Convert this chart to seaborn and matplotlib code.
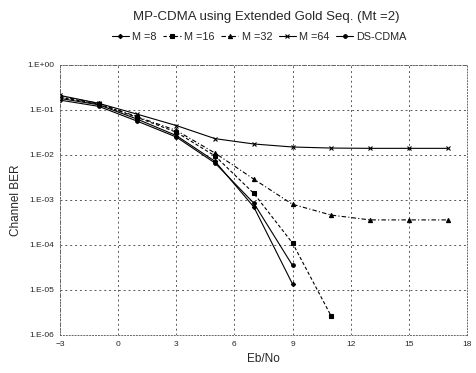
import numpy as np
import pandas as pd
import matplotlib
matplotlib.use('Agg')
import matplotlib.pyplot as plt
import seaborn as sns

# dados
ebno = [-3, -1, 1, 3, 5, 7, 9, 11, 13, 15, 17]
ber_m8 = [0.18, 0.13, 0.062, 0.027, 0.0072, 0.0007, 1.35e-5]
ber_m16 = [0.19, 0.135, 0.068, 0.032, 0.0095, 0.0014, 1.1e-4, 2.6e-6]
ber_m32 = [0.2, 0.14, 0.07, 0.035, 0.011, 0.0029, 8e-4, 4.6e-4, 3.6e-4, 3.6e-4, 3.6e-4]
ber_m64 = [0.21, 0.14, 0.08, 0.045, 0.023, 0.0175, 0.015, 0.0142, 0.014, 0.014, 0.014]
ber_ds = [0.165, 0.12, 0.056, 0.025, 0.0066, 0.00085, 3.5e-5]

labels = ['M =8', 'M =16', 'M =32', 'M =64', 'DS-CDMA']
series = [ber_m8, ber_m16, ber_m32, ber_m64, ber_ds]

sns.set_style('white')
plt.rcParams['font.family'] = ['Liberation Sans', 'DejaVu Sans']

fig = plt.figure(figsize=(4.76, 3.73), dpi=100)
ax = fig.add_axes([0.126, 0.102, 0.855, 0.724])

markers = ['D', 's', '^', 'x', 'o']
lstyles = ['-', (0, (3, 2)), (0, (4, 2, 1, 2)), '-', '-']
msizes = [2.2, 3.2, 3, 3.5, 2.6]

for lab, vals, mk, ls, ms in zip(labels, series, markers, lstyles, msizes):
    d = pd.DataFrame({'Eb/No': ebno[:len(vals)], 'BER': vals})
    sns.lineplot(data=d, x='Eb/No', y='BER', ax=ax, color='black', label=lab,
                 marker=mk, linestyle=ls, linewidth=0.8, markersize=ms,
                 markeredgewidth=0.8, markeredgecolor='black')

ax.set_yscale('log')
ax.set_xlim(-3, 18)
ax.set_ylim(1e-6, 1)
ax.set_xticks(range(-3, 19, 3))
ax.set_yticks([1, 1e-1, 1e-2, 1e-3, 1e-4, 1e-5, 1e-6])
ax.set_yticklabels(['1.E+00', '1.E-01', '1.E-02', '1.E-03', '1.E-04', '1.E-05', '1.E-06'])
ax.minorticks_off()
ax.tick_params(axis='both', labelsize=6, length=0, pad=4)
ax.grid(True, linestyle=(0, (2, 3)), color='0.35', linewidth=0.7)
for s in ax.spines.values():
    s.set_linestyle((0, (1, 2)))
    s.set_color('0.4')
    s.set_linewidth(0.7)

ax.set_xlabel('Eb/No', fontsize=8.5)
ax.set_ylabel('Channel BER', fontsize=8.5)

h, l = ax.get_legend_handles_labels()
ax.legend(h, l, ncol=5, loc='lower center', bbox_to_anchor=(0.49, 1.05),
          frameon=False, fontsize=7.8, handlelength=1.6, handletextpad=0.3,
          columnspacing=0.6)

fig.text(0.56, 0.955, 'MP-CDMA using Extended Gold Seq. (Mt =2)', ha='center',
         va='center', fontsize=9.5)

fig.savefig('out.png', dpi=100)
